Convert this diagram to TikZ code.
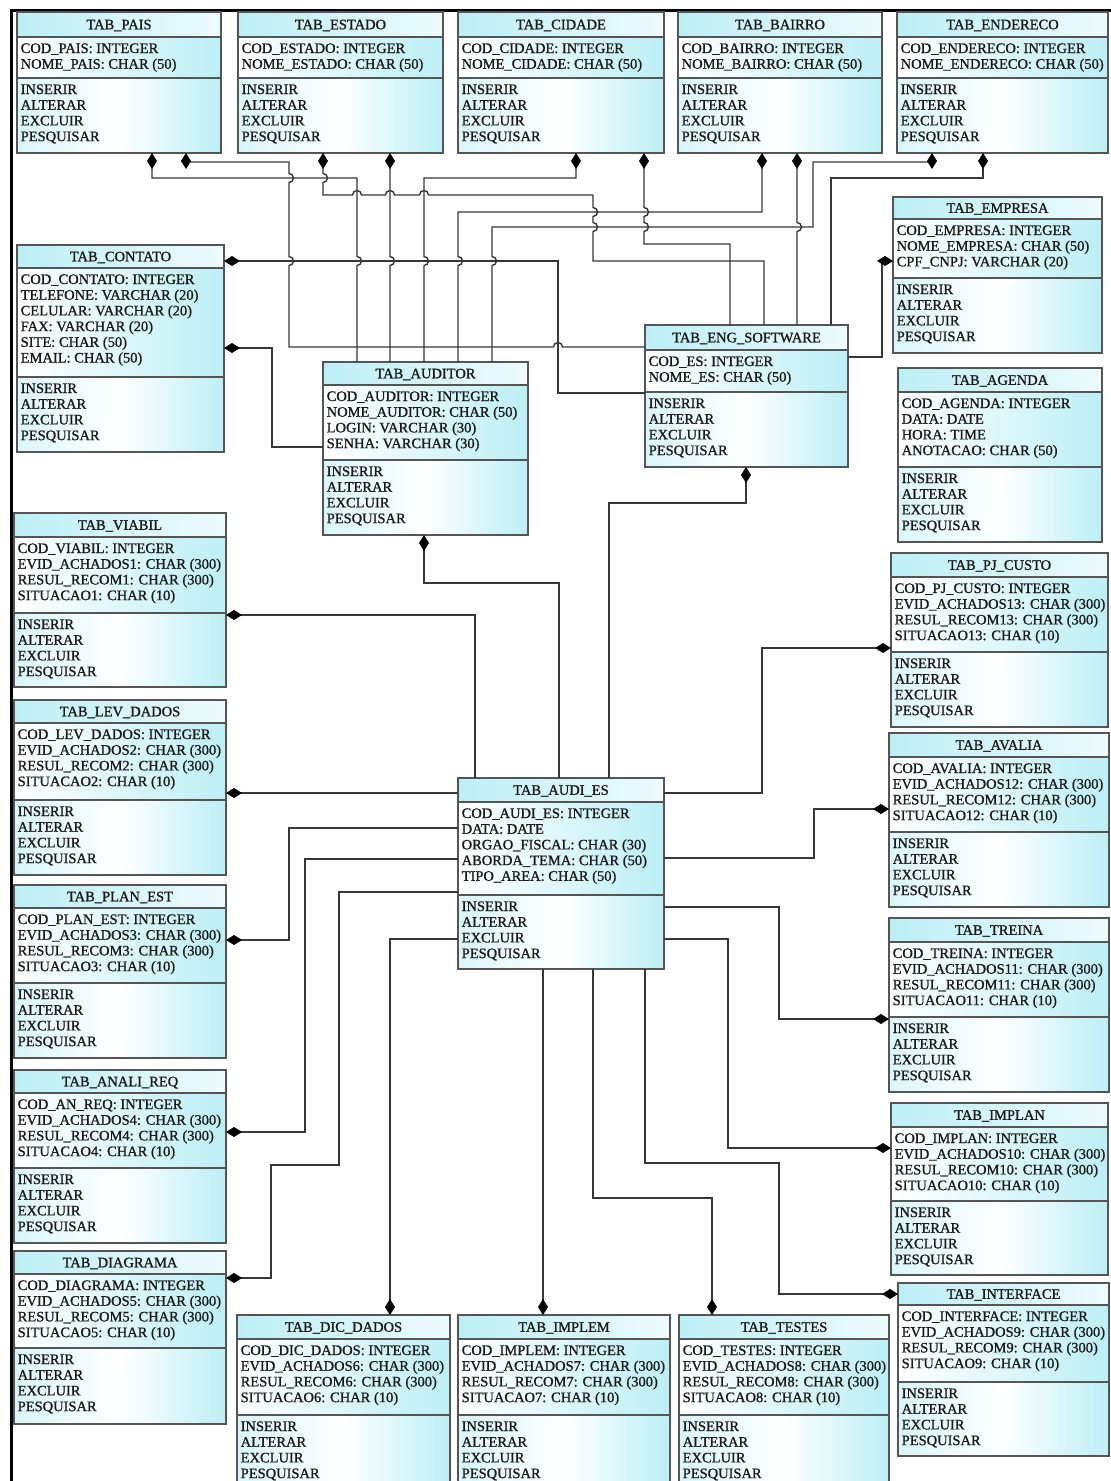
\documentclass[tikz,border=0pt]{standalone}
\usepackage{fontspec}
\setmainfont{Liberation Serif}
% a slightly heavier cut of the regular face for the table texts
\newfontfamily\tabfont{Liberation Serif}[BoldFont={Liberation Serif}, BoldFeatures={FakeBold=1.0}]
\usetikzlibrary{arrows.meta}

\definecolor{cyd}{RGB}{188,239,245}
\definecolor{cyl}{RGB}{238,251,253}
\definecolor{edge}{RGB}{85,85,85}
\definecolor{lineg}{RGB}{55,55,55}
\definecolor{ink}{RGB}{25,25,25}

\tikzset{
  tabframe/.style={draw=edge, line width=1.3pt, inner sep=0pt, outer sep=0pt},
  sepline/.style={draw=edge, line width=1.4pt},
  txt/.style={font=\tabfont\bfseries\fontsize{14.5}{16}\selectfont, text=ink, inner sep=0pt},
  conn/.style={draw=lineg, line width=1.4pt},
  rel/.style={conn, arrows={Diamond[length=16pt,width=10pt,color=black]-}},
}

% line hops: vertical downward / horizontal rightward
\newcommand\vd[2]{-- (#1,{#2-4.5}) arc[start angle=90,end angle=-90,radius=4.5pt]}
\newcommand\hr[2]{-- ({#1-4.5},#2) arc[start angle=180,end angle=0,radius=4.5pt]}

% table box: name, left, right, top, title separator, attribute separator, bottom, title, attributes
\newcommand\erbox[9]{%
  \shade[left color=cyd, right color=cyl] (#2,#4) rectangle (#3,#5);
  \shade[left color=white, right color=cyd] (#2,#5) rectangle (#3,#6);
  \shade[left color=cyd!55, right color=cyd, middle color=white] (#2,#6) rectangle (#3,#7);
  \node[tabframe, minimum width={#3-#2}, minimum height={#7-#4}, anchor=north west] (#1) at (#2,#4) {};
  \draw[sepline] (#2,#5) -- (#3,#5) (#2,#6) -- (#3,#6);
  \node[txt, anchor=base] (#1-title) at ({(#2+#3)/2},{(#4+#5)/2+4.8}) {#8};
  \foreach \t [count=\i from 0] in {#9}
    \node[txt, anchor=base west] (#1-a\i) at ({#2+3.5},{#5+16+\i*15.7}) {\t};
  \foreach \t [count=\i from 0] in {INSERIR,ALTERAR,EXCLUIR,PESQUISAR}
    \node[txt, anchor=base west] (#1-m\i) at ({#2+3.5},{#6+16+\i*15.7}) {\t};
}

\begin{document}
\begin{tikzpicture}[x=1pt,y=-1pt]
\useasboundingbox (0,0) rectangle (1111,1481);
\fill[white] (0,0) rectangle (1111,1481);
\draw[black, line width=2.5pt] (11.5,1481) -- (11.5,10.5) -- (1111,10.5);

% top row
\erbox{pais}{17}{221}{12}{37}{78}{153}{TAB\_PAIS}{COD\_PAIS: INTEGER, NOME\_PAIS: CHAR (50)}
\erbox{estado}{238}{443}{12}{37}{78}{153}{TAB\_ESTADO}{COD\_ESTADO: INTEGER, NOME\_ESTADO: CHAR (50)}
\erbox{cidade}{458}{664}{12}{37}{78}{153}{TAB\_CIDADE}{COD\_CIDADE: INTEGER, NOME\_CIDADE: CHAR (50)}
\erbox{bairro}{678}{882}{12}{37}{78}{153}{TAB\_BAIRRO}{COD\_BAIRRO: INTEGER, NOME\_BAIRRO: CHAR (50)}
\erbox{endereco}{897}{1108}{12}{37}{78}{153}{TAB\_ENDERECO}{COD\_ENDERECO: INTEGER, NOME\_ENDERECO: CHAR (50)}

% upper middle
\erbox{empresa}{893}{1102}{197}{219}{278}{353}{TAB\_EMPRESA}{COD\_EMPRESA: INTEGER, NOME\_EMPRESA: CHAR (50), CPF\_CNPJ: VARCHAR (20)}
\erbox{contato}{17}{224}{245}{268}{377}{452}{TAB\_CONTATO}{COD\_CONTATO: INTEGER, TELEFONE: VARCHAR (20), CELULAR: VARCHAR (20), FAX: VARCHAR (20), SITE: CHAR (50), EMAIL: CHAR (50)}
\erbox{auditor}{323}{528}{362}{385}{460}{535}{TAB\_AUDITOR}{COD\_AUDITOR: INTEGER, NOME\_AUDITOR: CHAR (50), LOGIN: VARCHAR (30), SENHA: VARCHAR (30)}
\erbox{eng}{645}{848}{325}{350}{392}{467}{TAB\_ENG\_SOFTWARE}{COD\_ES: INTEGER, NOME\_ES: CHAR (50)}
\erbox{agenda}{898}{1102}{368}{392}{467}{542}{TAB\_AGENDA}{COD\_AGENDA: INTEGER, DATA: DATE, HORA: TIME, ANOTACAO: CHAR (50)}

% left column
\erbox{viabil}{14}{226}{513}{537}{613}{687}{TAB\_VIABIL}{COD\_VIABIL: INTEGER, EVID\_ACHADOS1: CHAR (300), RESUL\_RECOM1: CHAR (300), SITUACAO1: CHAR (10)}
\erbox{levdados}{14}{226}{700}{723}{800}{875}{TAB\_LEV\_DADOS}{COD\_LEV\_DADOS: INTEGER, EVID\_ACHADOS2: CHAR (300), RESUL\_RECOM2: CHAR (300), SITUACAO2: CHAR (10)}
\erbox{planest}{14}{226}{885}{908}{983}{1058}{TAB\_PLAN\_EST}{COD\_PLAN\_EST: INTEGER, EVID\_ACHADOS3: CHAR (300), RESUL\_RECOM3: CHAR (300), SITUACAO3: CHAR (10)}
\erbox{analireq}{14}{226}{1070}{1093}{1168}{1243}{TAB\_ANALI\_REQ}{COD\_AN\_REQ: INTEGER, EVID\_ACHADOS4: CHAR (300), RESUL\_RECOM4: CHAR (300), SITUACAO4: CHAR (10)}
\erbox{diagrama}{14}{226}{1251}{1274}{1348}{1424}{TAB\_DIAGRAMA}{COD\_DIAGRAMA: INTEGER, EVID\_ACHADOS5: CHAR (300), RESUL\_RECOM5: CHAR (300), SITUACAO5: CHAR (10)}

% right column
\erbox{pjcusto}{891}{1108}{553}{577}{652}{727}{TAB\_PJ\_CUSTO}{COD\_PJ\_CUSTO: INTEGER, EVID\_ACHADOS13: CHAR (300), RESUL\_RECOM13: CHAR (300), SITUACAO13: CHAR (10)}
\erbox{avalia}{889}{1109}{733}{757}{832}{907}{TAB\_AVALIA}{COD\_AVALIA: INTEGER, EVID\_ACHADOS12: CHAR (300), RESUL\_RECOM12: CHAR (300), SITUACAO12: CHAR (10)}
\erbox{treina}{889}{1109}{918}{942}{1017}{1092}{TAB\_TREINA}{COD\_TREINA: INTEGER, EVID\_ACHADOS11: CHAR (300), RESUL\_RECOM11: CHAR (300), SITUACAO11: CHAR (10)}
\erbox{implan}{891}{1108}{1103}{1127}{1201}{1275}{TAB\_IMPLAN}{COD\_IMPLAN: INTEGER, EVID\_ACHADOS10: CHAR (300), RESUL\_RECOM10: CHAR (300), SITUACAO10: CHAR (10)}
\erbox{interface}{898}{1109}{1283}{1305}{1382}{1456}{TAB\_INTERFACE}{COD\_INTERFACE: INTEGER, EVID\_ACHADOS9: CHAR (300), RESUL\_RECOM9: CHAR (300), SITUACAO9: CHAR (10)}

% centre and bottom row
\erbox{audies}{458}{664}{778}{802}{895}{969}{TAB\_AUDI\_ES}{COD\_AUDI\_ES: INTEGER, DATA: DATE, ORGAO\_FISCAL: CHAR (30), ABORDA\_TEMA: CHAR (50), TIPO\_AREA: CHAR (50)}
\erbox{dicdados}{237}{450}{1315}{1339}{1415}{1490}{TAB\_DIC\_DADOS}{COD\_DIC\_DADOS: INTEGER, EVID\_ACHADOS6: CHAR (300), RESUL\_RECOM6: CHAR (300), SITUACAO6: CHAR (10)}
\erbox{implem}{458}{670}{1315}{1339}{1415}{1490}{TAB\_IMPLEM}{COD\_IMPLEM: INTEGER, EVID\_ACHADOS7: CHAR (300), RESUL\_RECOM7: CHAR (300), SITUACAO7: CHAR (10)}
\erbox{testes}{679}{889}{1315}{1339}{1415}{1490}{TAB\_TESTES}{COD\_TESTES: INTEGER, EVID\_ACHADOS8: CHAR (300), RESUL\_RECOM8: CHAR (300), SITUACAO8: CHAR (10)}

% relations of the upper tables
\draw[rel] (pais.south -| 152,0) -- (152,178) -- (357,178) \vd{357}{261} -- (auditor.north -| 357,0);
\draw[rel] (pais.south -| 186,0) -- (186,162) -- (289,162) \vd{289}{178} \vd{289}{261} -- (289,347) \hr{558}{347} -- (eng.west |- 0,347);
\draw[rel] (estado.south -| 323,0) \vd{323}{178} -- (323,195) \hr{357}{195} \hr{390}{195} \hr{424}{195} -- (593,195) \vd{593}{212} \vd{593}{227} -- (593,261) -- (764,261) -- (eng.north -| 764,0);
\draw[rel] (estado.south -| 390,0) \vd{390}{261} -- (auditor.north -| 390,0);
\draw[rel] (cidade.south -| 576,0) -- (576,178) -- (424,178) \vd{424}{261} -- (auditor.north -| 424,0);
\draw[rel] (cidade.south -| 644,0) \vd{644}{212} \vd{644}{227} -- (644,244) -- (730,244) -- (eng.north -| 730,0);
\draw[rel] (bairro.south -| 762,0) -- (762,212) -- (458,212) \vd{458}{261} -- (auditor.north -| 458,0);
\draw[rel] (bairro.south -| 797,0) \vd{797}{227} -- (eng.north -| 797,0);
\draw[rel] (endereco.south -| 932,0) -- (932,162) -- (813,162) -- (813,227) -- (492,227) \vd{492}{261} -- (auditor.north -| 492,0);
\draw[rel] (endereco.south -| 983,0) -- (983,178) -- (831,178) -- (eng.north -| 831,0);
\draw[rel] (contato.east |- 0,261) -- (558,261) -- (558,393) -- (eng.west |- 0,393);
\draw[rel] (contato.east |- 0,348) -- (272,348) -- (272,447) -- (auditor.west |- 0,447);
\draw[rel] (empresa.west |- 0,261) -- (882,261) -- (882,357) -- (eng.east |- 0,357);

% relations of TAB_AUDI_ES
\draw[rel] (eng.south -| 746,0) -- (746,503) -- (609,503) -- (audies.north -| 609,0);
\draw[rel] (auditor.south -| 424,0) -- (424,583) -- (559,583) -- (audies.north -| 559,0);
\draw[rel] (viabil.east |- 0,615) -- (475,615) -- (audies.north -| 475,0);
\draw[rel] (levdados.east |- 0,793) -- (audies.west |- 0,793);
\draw[rel] (planest.east |- 0,940) -- (289,940) -- (289,828) -- (audies.west |- 0,828);
\draw[rel] (analireq.east |- 0,1132) -- (305,1132) -- (305,859) -- (audies.west |- 0,859);
\draw[rel] (diagrama.east |- 0,1278) -- (271,1278) -- (271,1165) -- (339,1165) -- (339,892) -- (audies.west |- 0,892);
\draw[rel] (dicdados.north -| 390,0) -- (390,939) -- (audies.west |- 0,939);
\draw[rel] (implem.north -| 543,0) -- (audies.south -| 543,0);
\draw[rel] (testes.north -| 712,0) -- (712,1198) -- (593,1198) -- (audies.south -| 593,0);
\draw[rel] (interface.west |- 0,1294) -- (779,1294) -- (779,1163) -- (645,1163) -- (audies.south -| 645,0);
\draw[rel] (implan.west |- 0,1148) -- (728,1148) -- (728,939) -- (audies.east |- 0,939);
\draw[rel] (treina.west |- 0,1019) -- (779,1019) -- (779,907) -- (audies.east |- 0,907);
\draw[rel] (avalia.west |- 0,809) -- (814,809) -- (814,858) -- (audies.east |- 0,858);
\draw[rel] (pjcusto.west |- 0,648) -- (762,648) -- (762,793) -- (audies.east |- 0,793);
\end{tikzpicture}
\end{document}
